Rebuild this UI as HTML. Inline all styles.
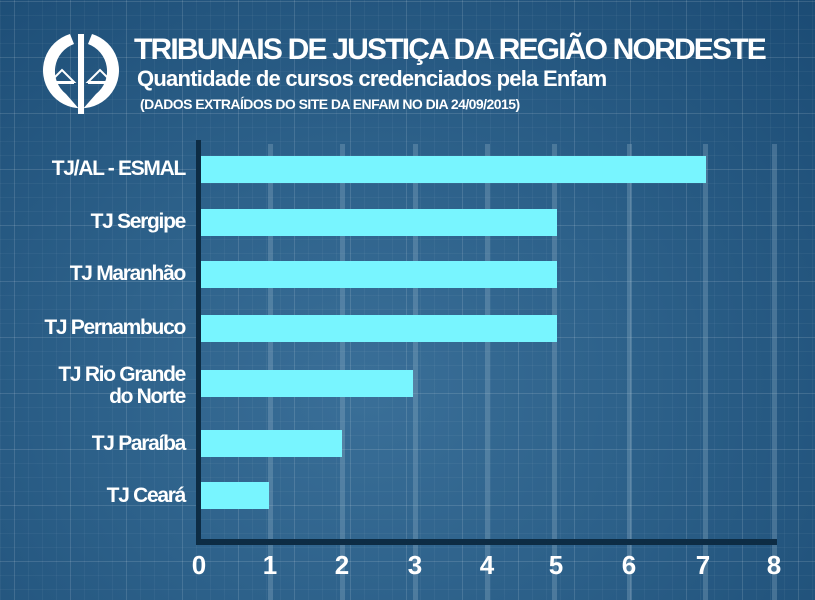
<!DOCTYPE html>
<html><head><meta charset="utf-8"><style>
body{margin:0;width:815px;height:600px;overflow:hidden;font-family:"Liberation Sans",sans-serif}
.bg{position:absolute;left:0;top:0;width:815px;height:600px;
background:
linear-gradient(rgba(255,255,255,0.09) 1px,transparent 1px) 0 1px/56px 56px,
linear-gradient(90deg,rgba(255,255,255,0.09) 1px,transparent 1px) 14px 0/56px 56px,
linear-gradient(rgba(255,255,255,0.04) 1px,transparent 1px) 0 1px/14px 14px,
linear-gradient(90deg,rgba(255,255,255,0.04) 1px,transparent 1px) 0 0/14px 14px,
radial-gradient(ellipse at 45% 65%,#3a6f98 0%,#2c6089 45%,#1b4b74 100%)}
.t{position:absolute;color:#fff;font-weight:bold;white-space:nowrap}
.g{position:absolute;top:144px;height:456px;width:5px;background:rgba(160,190,210,0.28)}
.b{position:absolute;left:201px;height:27px;background:#78f5ff}
.l{position:absolute;right:630px;color:#fff;font-weight:bold;font-size:21px;letter-spacing:-1.3px;text-align:right;line-height:22px}
.n{position:absolute;top:550px;color:#fff;font-weight:bold;font-size:26px;width:30px;text-align:center}
</style></head><body><div class="bg"></div>
<svg style="position:absolute;left:40px;top:30px" width="82" height="86" viewBox="0 0 82 86">
<path d="M30 4 A38 38 0 1 0 52 4 L48 14 A29 29 0 0 1 56 64 L42 80 L40 80 L26 64 A29 29 0 0 1 34 14 Z" fill="#fff"/>
<rect x="38" y="4" width="6" height="80" fill="#fff"/>
<path d="M10 52 L22 40 L34 52 Z M48 52 L60 40 L72 52 Z" fill="none" stroke="#fff" stroke-width="2"/>
<rect x="10" y="52" width="24" height="2" fill="#fff"/><rect x="48" y="52" width="24" height="2" fill="#fff"/>
</svg>
<div class="t" style="left:134px;top:33px;font-size:30px;letter-spacing:-1.8px">TRIBUNAIS DE JUSTIÇA DA REGIÃO NORDESTE</div>
<div class="t" style="left:137px;top:66px;font-size:22px;letter-spacing:-0.75px">Quantidade de cursos credenciados pela Enfam</div>
<div class="t" style="left:140px;top:96px;font-size:14px;letter-spacing:-0.55px">(DADOS EXTRAÍDOS DO SITE DA ENFAM NO DIA 24/09/2015)</div>
<div class="g" style="left:268px"></div><div class="g" style="left:340px"></div><div class="g" style="left:413px"></div>
<div class="g" style="left:485px"></div><div class="g" style="left:552px"></div><div class="g" style="left:627px"></div>
<div class="g" style="left:703px"></div><div class="g" style="left:772px"></div>
<div class="b" style="top:156px;width:505px"></div>
<div class="b" style="top:209px;width:356px"></div>
<div class="b" style="top:261px;width:356px"></div>
<div class="b" style="top:315px;width:356px"></div>
<div class="b" style="top:370px;width:212px"></div>
<div class="b" style="top:430px;width:141px"></div>
<div class="b" style="top:482px;width:68px"></div>
<div style="position:absolute;left:196px;top:140px;width:5px;height:405px;background:#0d2c44"></div>
<div style="position:absolute;left:196px;top:539px;width:581px;height:6px;background:#0d2c44"></div>
<div class="l" style="top:158px">TJ/AL - ESMAL</div>
<div class="l" style="top:211px">TJ Sergipe</div>
<div class="l" style="top:263px">TJ Maranhão</div>
<div class="l" style="top:317px">TJ Pernambuco</div>
<div class="l" style="top:364px">TJ Rio Grande<br>do Norte</div>
<div class="l" style="top:433px">TJ Paraíba</div>
<div class="l" style="top:485px">TJ Ceará</div>
<div class="n" style="left:184px">0</div><div class="n" style="left:255px">1</div><div class="n" style="left:327px">2</div>
<div class="n" style="left:400px">3</div><div class="n" style="left:472px">4</div><div class="n" style="left:541px">5</div>
<div class="n" style="left:614px">6</div><div class="n" style="left:688px">7</div><div class="n" style="left:759px">8</div>
</body></html>
